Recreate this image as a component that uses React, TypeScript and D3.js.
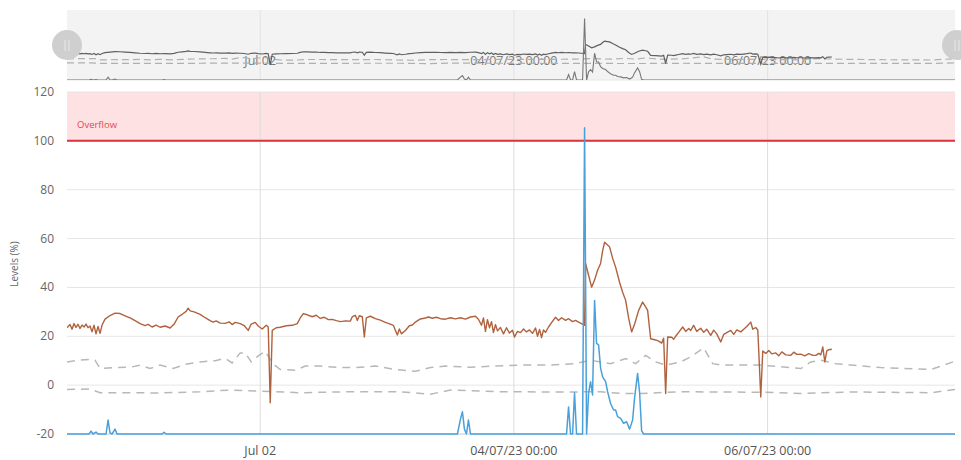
import React from 'react';
import * as d3 from 'd3';

// Time origin of the visible window (hours are offsets from this moment)
const START = new Date(2023, 5, 30, 11, 27);
const SPAN_HOURS = 168;

// Level (%) – brown series: [hour offset, value]
const levelSeries: [number, number][] = [
  [0, 23.5], [0.57, 24.8], [0.95, 22.9], [1.33, 25.2], [1.7, 23.6], [2.08, 24.9], [2.46, 23.2], [2.84, 24.6],
  [3.22, 23.8], [3.6, 25.0], [3.98, 23.5], [4.36, 24.2], [4.73, 21.8], [5.11, 24.5], [5.49, 21.0], [5.87, 24.0],
  [6.25, 21.2], [6.63, 24.6], [7.2, 27.0], [8.14, 28.5], [9.09, 29.5], [10.04, 29.3], [10.98, 28.4], [11.93, 27.5],
  [12.88, 26.4], [13.83, 25.2], [14.77, 24.4], [15.34, 24.9], [16.1, 23.8], [16.86, 24.6], [17.61, 23.7], [18.56, 24.2],
  [19.51, 23.4], [20.27, 25.0], [21.02, 27.9], [21.78, 29.0], [22.54, 30.2], [22.92, 31.5], [23.3, 30.4], [24.05, 30.0],
  [25.19, 29.0], [26.14, 27.6], [27.08, 26.4], [27.65, 25.8], [28.22, 26.3], [28.98, 25.4], [29.93, 25.3], [30.68, 25.9],
  [31.25, 24.8], [31.82, 25.7], [32.77, 25.2], [33.52, 24.4], [34.28, 22.4], [34.85, 25.0], [35.61, 25.7], [36.18, 24.2],
  [36.93, 23.0], [37.69, 24.5], [38.07, 23.8], [38.45, -7.2], [38.83, 22.4], [39.58, 23.5], [40.34, 23.7], [41.48, 24.3],
  [42.62, 24.5], [43.56, 25.2], [44.13, 27.5], [44.7, 29.3], [45.46, 28.8], [46.4, 28.0], [47.16, 28.6], [47.92, 27.3],
  [48.68, 27.8], [49.43, 26.8], [50.19, 26.9], [50.95, 26.4], [51.71, 26.0], [52.65, 26.3], [53.6, 26.2], [53.98, 28.0],
  [54.55, 28.6], [54.93, 26.5], [55.3, 28.4], [55.87, 28.0], [56.25, 19.7], [56.63, 27.5], [57.39, 28.2], [58.34, 27.2],
  [59.28, 26.6], [60.23, 25.7], [61.18, 25.0], [61.74, 24.5], [62.12, 22.5], [62.5, 20.5], [62.88, 23.0], [63.26, 21.0],
  [64.02, 22.4], [64.77, 24.3], [65.34, 24.6], [65.91, 25.8], [66.86, 27.1], [67.81, 27.5], [68.37, 27.9], [69.13, 27.4],
  [69.89, 27.8], [70.65, 27.2], [71.59, 27.0], [72.54, 27.6], [73.49, 27.1], [74.43, 27.6], [75.38, 27.0], [76.33, 27.9],
  [77.28, 28.2], [77.84, 27.0], [78.41, 24.5], [78.79, 27.5], [79.17, 22.0], [79.55, 26.8], [79.93, 23.5], [80.31, 26.0],
  [80.68, 21.5], [81.06, 24.8], [81.44, 22.2], [82.01, 23.6], [82.58, 21.0], [83.15, 23.5], [83.71, 21.3], [84.28, 22.5],
  [84.66, 19.7], [85.23, 22.0], [85.8, 21.5], [86.37, 23.0], [86.93, 21.8], [87.5, 22.6], [88.07, 21.2], [88.64, 23.4],
  [89.02, 20.0], [89.4, 22.8], [89.78, 19.5], [90.15, 22.6], [90.53, 21.6], [91.1, 23.8], [91.67, 25.6], [92.43, 27.8],
  [92.99, 26.5], [93.56, 27.6], [94.32, 26.5], [94.89, 27.2], [95.65, 26.0], [96.22, 26.5], [96.78, 25.8], [97.35, 25.2],
  [97.92, 24.5], [98.11, 49.8], [98.68, 45.0], [99.25, 40.1], [99.81, 43.0], [100.38, 47.0], [100.95, 49.8], [101.33, 55.0],
  [101.71, 58.5], [102.28, 57.4], [102.65, 56.6], [103.22, 52.0], [103.79, 48.3], [104.55, 42.0], [105.12, 38.0], [105.69, 34.7],
  [106.25, 27.5], [106.82, 21.8], [107.39, 25.0], [108.15, 30.6], [108.9, 34.0], [109.47, 32.0], [109.85, 30.6], [110.42, 19.0],
  [111.37, 18.5], [111.94, 18.0], [112.5, 17.2], [112.88, 19.2], [113.26, -3.4], [113.64, 19.7], [114.4, 19.6], [114.78, 18.8],
  [115.16, 20.0], [115.72, 21.6], [116.48, 23.8], [117.05, 22.0], [117.62, 23.2], [117.99, 22.4], [118.56, 24.5], [119.13, 22.0],
  [119.89, 23.3], [120.46, 21.6], [121.03, 22.9], [121.78, 20.4], [122.35, 22.5], [122.92, 21.0], [123.68, 17.7], [124.25, 20.8],
  [124.81, 21.5], [125.57, 22.4], [126.14, 20.8], [126.71, 22.6], [127.47, 21.8], [128.03, 22.9], [128.6, 24.0], [129.36, 25.8],
  [129.74, 22.9], [130.31, 23.6], [130.69, 22.5], [130.88, 13.6], [131.25, -4.8], [131.63, 14.0], [132.2, 13.0], [132.77, 14.2],
  [133.34, 12.8], [134.09, 13.2], [134.66, 12.0], [135.23, 13.6], [135.99, 12.4], [136.93, 12.2], [137.5, 13.5], [138.07, 12.6],
  [138.83, 12.7], [139.58, 12.0], [140.34, 12.9], [141.1, 12.2], [141.67, 12.2], [142.24, 13.0], [142.61, 12.4], [142.99, 15.6],
  [143.37, 9.5], [143.75, 14.0], [144.13, 14.5], [144.7, 14.7],
];

// Second level – blue series
const blueSeries: [number, number][] = [
  [0, -20], [4.17, -20], [4.55, -18.8], [4.92, -20], [5.49, -19.2], [5.87, -20], [7.39, -20], [7.77, -14.3],
  [8.14, -19.5], [8.52, -20], [9.09, -18], [9.47, -20], [17.99, -20], [18.37, -19.3], [18.75, -20],
  [73.86, -20], [74.43, -14], [74.81, -10.9], [75.19, -18], [75.57, -20], [75.95, -14.3], [76.33, -20],
  [94.51, -20], [94.89, -8.9], [95.27, -20], [95.65, -20], [96.02, -3.1], [96.4, -20], [97.54, -20], [97.92, 105.4],
  [98.3, -20], [98.68, -3.3], [99.05, 1.4], [99.43, -4], [99.81, 34.7], [100.19, 17.1], [100.57, 16.5], [100.95, 7],
  [101.33, 3.4], [101.9, 1.4], [102.28, -2.7], [102.84, -7.5], [103.41, -10.2], [103.79, -10.2], [104.17, -12.9],
  [104.74, -13.6], [105.3, -15.6], [105.87, -15], [106.44, -18], [107.01, -14.3], [107.39, -5], [107.95, 4.8],
  [108.33, -3], [108.71, -18.6], [109.09, -20], [168, -20],
];

// Upper dashed reference line
const upperBand: [number, number][] = [
  [0, 9.5], [2.46, 10.3], [4.36, 10.5], [5.3, 10.2], [6.25, 6.8], [9.09, 7.2], [11.93, 7.3], [13.83, 8.2],
  [15.72, 6.8], [17.61, 8.2], [20.08, 6.8], [22.35, 8.5], [25.19, 9.5], [28.03, 10], [29.93, 11], [31.25, 9.1],
  [32.77, 13.2], [33.71, 13.2], [34.85, 9.5], [36.18, 12], [37.5, 13.9], [38.83, 9], [40.34, 6.4], [43.18, 6.1],
  [45.08, 7.8], [47.92, 7.8], [51.71, 7.2], [54.55, 7.2], [58.34, 7.8], [62.12, 6.4], [65.91, 5.7], [68.75, 7.2],
  [71.59, 7.8], [76.33, 7.3], [80.11, 7.8], [85.8, 8.2], [91.48, 8.2], [96.22, 8.8], [99.05, 10.2], [102.84, 8.8],
  [105.69, 10.9], [107.58, 8.8], [109.47, 12.2], [111.37, 9.5], [113.26, 8.2], [116.1, 9.5], [117.99, 11.6],
  [120.46, 15.3], [122.16, 8.8], [123.68, 8.2], [127.47, 8.2], [131.25, 8.2], [135.04, 7.5], [138.83, 6.8],
  [140.72, 9.5], [142.61, 10.2], [145.45, 8.8], [148.3, 8.2], [153.98, 7.2], [163.45, 6.4], [168, 9.8],
];

// Lower dashed reference line
const lowerBand: [number, number][] = [
  [0, -1.8], [4.36, -1.6], [6.25, -3.1], [11.93, -3.1], [17.61, -3.2], [25.19, -2.7], [30.87, -2.0], [35.61, -2.4],
  [44.13, -3.1], [53.6, -2.7], [63.07, -2.7], [68.75, -3.7], [72.54, -2.0], [82.01, -2.7], [93.37, -2.8],
  [100.95, -2.7], [104.74, -3.4], [108.52, -3.4], [116.1, -2.7], [123.68, -2.8], [131.25, -2.9], [138.83, -3.4],
  [148.3, -2.8], [163.45, -3.1], [168, -1.8],
];

const yTicks = [-20, 0, 20, 40, 60, 80, 100, 120];
const xTickDates = [new Date(2023, 6, 2), new Date(2023, 6, 4), new Date(2023, 6, 6)];
const xTickLabels = ['Jul 02', '04/07/23 00:00', '06/07/23 00:00'];
const overflowFrom = 100;
const overflowTo = 120;
const overflowLabel = 'Overflow';
const yTitle = 'Levels (%)';

const W = 961;
const H = 460;
const L = 67;
const R = 955;
const TOP = 92;
const BOT = 434;
const NAV_TOP = 10;
const NAV_BOT = 80;
const FONT = '"Open Sans", "Noto Sans", sans-serif';

const toDate = (h: number) => new Date(START.getTime() + h * 3600000);

export default function App() {
  const x = d3.scaleTime().domain([START, toDate(SPAN_HOURS)]).range([L, R]);
  const y = d3.scaleLinear().domain([-20, 120]).range([BOT, TOP]);
  const yNav = d3.scaleLinear().domain([-20, 120]).range([69.5, 19.1]);
  const yNavBlue = d3.scaleLinear().domain([-20, 120]).range([80, 11.4]);

  const line = (ys: d3.ScaleLinear<number, number>) =>
    d3.line<[number, number]>().x((d) => x(toDate(d[0]))).y((d) => ys(d[1]));

  const main = line(y);
  const nav = line(yNav);
  const navB = line(yNavBlue);

  return (
    <svg width={W} height={H} style={{ position: 'absolute', left: 0, top: 0, fontFamily: FONT }}>
      <defs>
        <clipPath id="navclip">
          <rect x={L} y={NAV_TOP} width={R - L} height={NAV_BOT - NAV_TOP} />
        </clipPath>
        <clipPath id="plotclip">
          <rect x={L} y={TOP - 2} width={R - L} height={BOT - TOP + 4} />
        </clipPath>
      </defs>
      <rect width={W} height={H} fill="#fff" />

      {/* Navigator */}
      <rect x={L} y={NAV_TOP} width={R - L} height={NAV_BOT - NAV_TOP} fill="#f3f3f3" />
      {xTickDates.map((d, i) => (
        <line key={i} x1={x(d)} x2={x(d)} y1={NAV_TOP} y2={NAV_BOT} stroke="#e2e2e2" />
      ))}
      <line x1={L} x2={R} y1={NAV_BOT} y2={NAV_BOT} stroke="#e6e6e6" />
      {xTickDates.map((d, i) => (
        <text key={i} x={x(d)} y={65} textAnchor="middle" fontSize={12.5} fill="#7a7a7a">
          {xTickLabels[i]}
        </text>
      ))}
      <g clipPath="url(#navclip)" fill="none">
        <path d={nav(upperBand) || ''} stroke="#b0b0b0" strokeWidth={1.2} strokeDasharray="7,4" />
        <path d={nav(lowerBand) || ''} stroke="#b0b0b0" strokeWidth={1.2} strokeDasharray="7,4" />
        <path d={nav(levelSeries) || ''} stroke="#606060" strokeWidth={1.2} />
        <path d={navB(blueSeries) || ''} stroke="#777" strokeWidth={1.1} />
      </g>
      {[L, 957].map((cx, i) => (
        <g key={i}>
          <circle cx={cx} cy={45} r={15} fill="#cfcfcf" />
          <line x1={cx - 2} x2={cx - 2} y1={40} y2={51} stroke="#e8e8e8" strokeWidth={1} />
          <line x1={cx + 2} x2={cx + 2} y1={40} y2={51} stroke="#e8e8e8" strokeWidth={1} />
        </g>
      ))}

      {/* Overflow band */}
      <rect x={L} y={y(overflowTo)} width={R - L} height={y(overflowFrom) - y(overflowTo)} fill="#fde1e3" />

      {/* Grid */}
      {yTicks.map((t) => (
        <line key={t} x1={L} x2={R} y1={y(t)} y2={y(t)} stroke="#e6e6e6" />
      ))}
      {xTickDates.map((d, i) => (
        <line key={i} x1={x(d)} x2={x(d)} y1={TOP} y2={BOT} stroke="#dcdcdc" />
      ))}
      <line x1={L} x2={R} y1={BOT} y2={BOT} stroke="#ccd6eb" />
      <line x1={L} x2={R} y1={y(overflowFrom)} y2={y(overflowFrom)} stroke="#d8343d" strokeWidth={2} />
      <text x={L + 10} y={y(overflowTo) + 36} fontSize={9.5} fill="#e04a55">
        {overflowLabel}
      </text>

      {/* Y axis */}
      {yTicks.map((t) => (
        <text key={t} x={54} y={y(t) + 4} textAnchor="end" fontSize={12} fill="#666">
          {t}
        </text>
      ))}
      <text transform={`translate(18,${(TOP + BOT) / 2 + 1}) rotate(-90)`} textAnchor="middle" fontSize={10} fill="#666">
        {yTitle}
      </text>

      {/* X axis labels */}
      {xTickDates.map((d, i) => (
        <text key={i} x={x(d)} y={455} textAnchor="middle" fontSize={12.5} fill="#555">
          {xTickLabels[i]}
        </text>
      ))}

      {/* Series */}
      <g clipPath="url(#plotclip)" fill="none">
        <path d={main(upperBand) || ''} stroke="#b8b8b8" strokeWidth={1.5} strokeDasharray="8,6" />
        <path d={main(lowerBand) || ''} stroke="#b8b8b8" strokeWidth={1.5} strokeDasharray="8,6" />
        <path d={main(levelSeries) || ''} stroke="#b0623e" strokeWidth={1.4} strokeLinejoin="round" />
        <path d={main(blueSeries) || ''} stroke="#4aa0da" strokeWidth={1.5} strokeLinejoin="round" />
      </g>
    </svg>
  );
}
